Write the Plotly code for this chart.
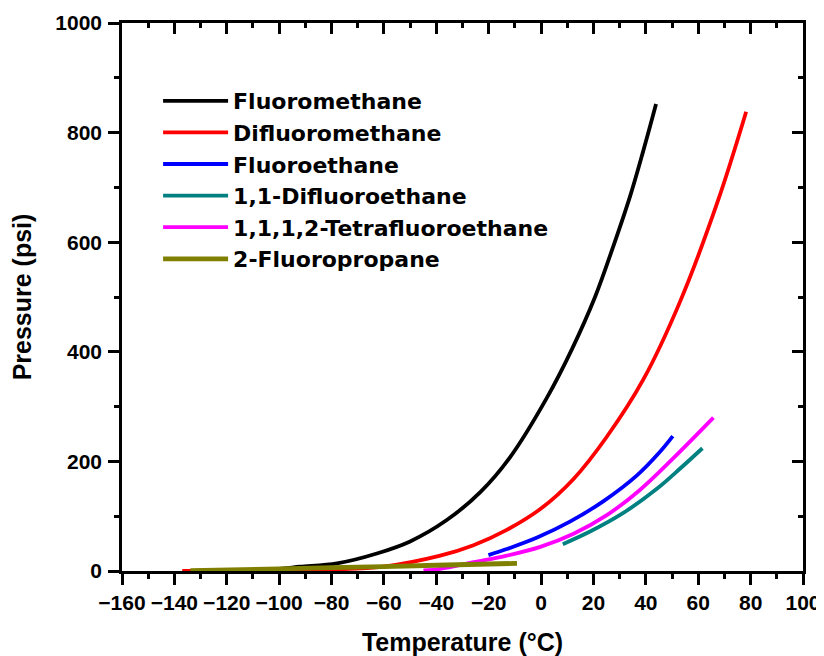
import plotly.graph_objects as go

# ---- data (Temperature °C, Pressure psi) ----
names = ["Fluoromethane", "Difluoromethane", "Fluoroethane",
         "1,1-Difluoroethane", "1,1,1,2-Tetrafluoroethane", "2-Fluoropropane"]
colors = ["#000000", "#FF0000", "#0000FF", "#008080", "#FF00FF", "#808000"]

t_fluoromethane = [-134, -115, -100, -92, -77.9, -62.7, -50.0, -36.0, -23.2, -11.8,
                   2.2, 11.8, 20.6, 27.4, 34.0, 39.1, 43.9]
p_fluoromethane = [0.3, 1.5, 4, 7.8, 14, 32, 54, 93, 144, 208,
                   316, 405, 500, 590, 684, 768, 852]

t_difluoromethane = [-137, -120, -100, -80, -60.2, -38.5, -25.8, -13.1, -0.3,
                     12.4, 25.1, 39.1, 53.1, 67.7, 78.3]
p_difluoromethane = [0, 0.3, 1, 3, 8, 28, 47, 75, 113,
                     168, 245, 350, 492, 678, 838]

t_fluoroethane = [-20.1, -13.1, -1.5, 11, 24, 36.5, 45.5, 50.3]
p_fluoroethane = [29, 40, 61, 90, 128, 174, 218, 246]

t_difluoroethane = [8.3, 18.7, 31.4, 44.2, 53.1, 61.6]
p_difluoroethane = [49, 72, 106, 150, 187, 224]

t_tetrafluoroethane = [-44.9, -38.5, -25.8, -13.1, -0.3, 12.4, 25.1, 37.5, 50.5, 65.8]
p_tetrafluoroethane = [1, 4, 16, 28, 44, 68, 102, 147, 206, 280]

t_fluoropropane = [-133.9, -100, -70, -40, -9.2]
p_fluoropropane = [0.5, 4, 7, 10.5, 14]

temps = [t_fluoromethane, t_difluoromethane, t_fluoroethane,
         t_difluoroethane, t_tetrafluoroethane, t_fluoropropane]
press = [p_fluoromethane, p_difluoromethane, p_fluoroethane,
         p_difluoroethane, p_tetrafluoroethane, p_fluoropropane]
widths = [3.8, 3.8, 3.8, 3.8, 3.8, 4.8]

x_range = [-160, 100]
y_range = [0, 1000]

FONT = "Liberation Sans, Arial, sans-serif"
LEG_FONT = "DejaVu Sans, Liberation Sans, sans-serif"

fig = go.Figure()
for n, c, t, p, w in zip(names, colors, temps, press, widths):
    fig.add_trace(go.Scatter(x=t, y=p, mode="lines", name=n,
                             line=dict(color=c, width=w, shape="spline", smoothing=1.0)))

# invisible trace to anchor the mirrored (top/right) axes
fig.add_trace(go.Scatter(x=t_fluoropropane, y=p_fluoropropane, xaxis="x2", yaxis="y2",
                         mode="lines", line=dict(width=0), opacity=0,
                         showlegend=False, hoverinfo="skip"))

axis_common = dict(showgrid=False, zeroline=False, showline=True, linecolor="black",
                   linewidth=2.5, tickcolor="black", tickwidth=2.5, ticklen=11,
                   automargin=False)

fig.update_layout(
    template="none",
    width=816, height=648,
    paper_bgcolor="white", plot_bgcolor="white",
    margin=dict(l=114, r=21, t=15, b=85, autoexpand=False),
    font=dict(family=FONT, color="black"),
    xaxis=dict(range=x_range, dtick=20, tick0=0, ticks="outside",
               minor=dict(dtick=10, ticks="outside", ticklen=5.5, tickwidth=2.5, tickcolor="black"),
               tickfont=dict(size=21, family=FONT, weight="bold"),
               title=dict(text="Temperature (°C)", font=dict(size=25, family=FONT, weight="bold"),
                          standoff=25),
               **axis_common),
    yaxis=dict(range=y_range, dtick=200, tick0=0, ticks="outside",
               minor=dict(dtick=100, ticks="outside", ticklen=5.5, tickwidth=2.5, tickcolor="black"),
               tickfont=dict(size=21, family=FONT, weight="bold"),
               ticklabelstandoff=2,
               title=dict(text="Pressure (psi)", font=dict(size=25, family=FONT, weight="bold"),
                          standoff=18),
               **axis_common),
    xaxis2=dict(range=x_range, dtick=20, tick0=0, ticks="inside", overlaying="x", side="top",
                anchor="y2", showticklabels=False,
                minor=dict(dtick=10, ticks="inside", ticklen=5.5, tickwidth=2.5, tickcolor="black"),
                **axis_common),
    yaxis2=dict(range=y_range, dtick=200, tick0=0, ticks="inside", overlaying="y", side="right",
                anchor="x2", showticklabels=False,
                minor=dict(dtick=100, ticks="inside", ticklen=5.5, tickwidth=2.5, tickcolor="black"),
                **axis_common),
    legend=dict(x=0.053, y=0.896, xanchor="left", yanchor="top",
                bgcolor="rgba(0,0,0,0)", borderwidth=0,
                font=dict(size=22, family=LEG_FONT, weight="bold"),
                itemwidth=65, tracegroupgap=0),
    showlegend=True,
)

fig.write_html("out.html")
